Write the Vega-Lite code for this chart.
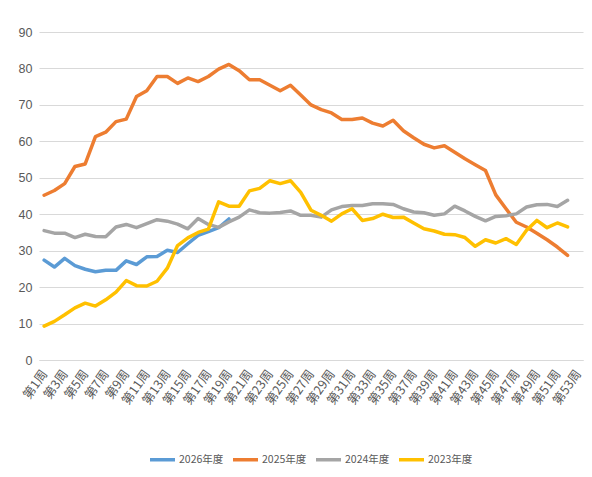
{
  "$schema": "https://vega.github.io/schema/vega-lite/v6.json",
  "width": 544,
  "height": 328,
  "autosize": {"type": "none"},
  "padding": {"left": 39, "top": 32, "right": 9, "bottom": 117},
  "background": "white",
  "data": {
    "values": [
      {"week": "第1周", "2026年度": 27.4, "2025年度": 45.2, "2024年度": 35.5, "2023年度": 9.3},
      {"week": "第2周", "2026年度": 25.5, "2025年度": 46.5, "2024年度": 34.8, "2023年度": 10.6},
      {"week": "第3周", "2026年度": 27.9, "2025年度": 48.4, "2024年度": 34.8, "2023年度": 12.4},
      {"week": "第4周", "2026年度": 25.9, "2025年度": 53.1, "2024年度": 33.6, "2023年度": 14.3},
      {"week": "第5周", "2026年度": 24.9, "2025年度": 53.8, "2024年度": 34.5, "2023年度": 15.6},
      {"week": "第6周", "2026年度": 24.2, "2025年度": 61.3, "2024年度": 33.9, "2023年度": 14.8},
      {"week": "第7周", "2026年度": 24.6, "2025年度": 62.5, "2024年度": 33.8, "2023年度": 16.5},
      {"week": "第8周", "2026年度": 24.6, "2025年度": 65.4, "2024年度": 36.5, "2023年度": 18.6},
      {"week": "第9周", "2026年度": 27.2, "2025年度": 66.1, "2024年度": 37.2, "2023年度": 21.8},
      {"week": "第10周", "2026年度": 26.2, "2025年度": 72.3, "2024年度": 36.3, "2023年度": 20.4},
      {"week": "第11周", "2026年度": 28.3, "2025年度": 73.9, "2024年度": 37.4, "2023年度": 20.3},
      {"week": "第12周", "2026年度": 28.4, "2025年度": 77.8, "2024年度": 38.5, "2023年度": 21.6},
      {"week": "第13周", "2026年度": 30.1, "2025年度": 77.8, "2024年度": 38.1, "2023年度": 25.2},
      {"week": "第14周", "2026年度": 29.5, "2025年度": 75.9, "2024年度": 37.3, "2023年度": 31.4},
      {"week": "第15周", "2026年度": 31.9, "2025年度": 77.4, "2024年度": 36.0, "2023年度": 33.5},
      {"week": "第16周", "2026年度": 34.2, "2025年度": 76.4, "2024年度": 38.8, "2023年度": 35.0},
      {"week": "第17周", "2026年度": 35.2, "2025年度": 77.8, "2024年度": 37.2, "2023年度": 35.9},
      {"week": "第18周", "2026年度": 36.3, "2025年度": 79.8, "2024年度": 36.4, "2023年度": 43.4},
      {"week": "第19周", "2026年度": 38.7, "2025年度": 81.1, "2024年度": 37.9, "2023年度": 42.2},
      {"week": "第20周", "2025年度": 79.4, "2024年度": 39.2, "2023年度": 42.2},
      {"week": "第21周", "2025年度": 76.9, "2024年度": 41.2, "2023年度": 46.4},
      {"week": "第22周", "2025年度": 76.9, "2024年度": 40.4, "2023年度": 47.1},
      {"week": "第23周", "2025年度": 75.4, "2024年度": 40.3, "2023年度": 49.2},
      {"week": "第24周", "2025年度": 73.9, "2024年度": 40.5, "2023年度": 48.4},
      {"week": "第25周", "2025年度": 75.4, "2024年度": 40.9, "2023年度": 49.2},
      {"week": "第26周", "2025年度": 72.7, "2024年度": 39.7, "2023年度": 46.0},
      {"week": "第27周", "2025年度": 70.0, "2024年度": 39.7, "2023年度": 41.1},
      {"week": "第28周", "2025年度": 68.7, "2024年度": 39.2, "2023年度": 39.7},
      {"week": "第29周", "2025年度": 67.8, "2024年度": 41.2, "2023年度": 38.1},
      {"week": "第30周", "2025年度": 66.0, "2024年度": 42.1, "2023年度": 40.1},
      {"week": "第31周", "2025年度": 66.0, "2024年度": 42.4, "2023年度": 41.5},
      {"week": "第32周", "2025年度": 66.4, "2024年度": 42.4, "2023年度": 38.3},
      {"week": "第33周", "2025年度": 65.0, "2024年度": 42.9, "2023年度": 38.8},
      {"week": "第34周", "2025年度": 64.2, "2024年度": 42.9, "2023年度": 40.0},
      {"week": "第35周", "2025年度": 65.8, "2024年度": 42.7, "2023年度": 39.1},
      {"week": "第36周", "2025年度": 62.9, "2024年度": 41.5, "2023年度": 39.2},
      {"week": "第37周", "2025年度": 61.0, "2024年度": 40.6, "2023年度": 37.6},
      {"week": "第38周", "2025年度": 59.2, "2024年度": 40.4, "2023年度": 36.0},
      {"week": "第39周", "2025年度": 58.2, "2024年度": 39.7, "2023年度": 35.4},
      {"week": "第40周", "2025年度": 58.8, "2024年度": 40.1, "2023年度": 34.5},
      {"week": "第41周", "2025年度": 57.0, "2024年度": 42.2, "2023年度": 34.4},
      {"week": "第42周", "2025年度": 55.2, "2024年度": 40.9, "2023年度": 33.6},
      {"week": "第43周", "2025年度": 53.6, "2024年度": 39.4, "2023年度": 31.2},
      {"week": "第44周", "2025年度": 52.0, "2024年度": 38.2, "2023年度": 33.0},
      {"week": "第45周", "2025年度": 45.3, "2024年度": 39.4, "2023年度": 32.1},
      {"week": "第46周", "2025年度": 41.5, "2024年度": 39.6, "2023年度": 33.3},
      {"week": "第47周", "2025年度": 37.8, "2024年度": 40.1, "2023年度": 31.7},
      {"week": "第48周", "2025年度": 36.5, "2024年度": 42.0, "2023年度": 35.6},
      {"week": "第49周", "2025年度": 34.8, "2024年度": 42.6, "2023年度": 38.3},
      {"week": "第50周", "2025年度": 33.0, "2024年度": 42.7, "2023年度": 36.3},
      {"week": "第51周", "2025年度": 31.0, "2024年度": 42.1, "2023年度": 37.6},
      {"week": "第52周", "2025年度": 28.7, "2024年度": 43.8, "2023年度": 36.5}
    ]
  },
  "transform": [
    {"fold": ["2026年度", "2025年度", "2024年度", "2023年度"], "as": ["year", "value"]},
    {"filter": "isValid(datum.value)"}
  ],
  "mark": {"type": "line", "strokeWidth": 3.5, "strokeJoin": "round", "strokeCap": "round"},
  "encoding": {
    "x": {
      "field": "week",
      "type": "ordinal",
      "sort": null,
      "scale": {
        "domain": ["第1周","第2周","第3周","第4周","第5周","第6周","第7周","第8周","第9周","第10周","第11周","第12周","第13周","第14周","第15周","第16周","第17周","第18周","第19周","第20周","第21周","第22周","第23周","第24周","第25周","第26周","第27周","第28周","第29周","第30周","第31周","第32周","第33周","第34周","第35周","第36周","第37周","第38周","第39周","第40周","第41周","第42周","第43周","第44周","第45周","第46周","第47周","第48周","第49周","第50周","第51周","第52周","第53周"],
        "type": "point",
        "padding": 0.5
      },
      "axis": {
        "title": null,
        "values": ["第1周","第3周","第5周","第7周","第9周","第11周","第13周","第15周","第17周","第19周","第21周","第23周","第25周","第27周","第29周","第31周","第33周","第35周","第37周","第39周","第41周","第43周","第45周","第47周","第49周","第51周","第53周"],
        "labelAngle": -55,
        "labelAlign": "right",
        "labelBaseline": "middle",
        "labelPadding": 11,
        "labelFont": "Noto Sans CJK SC",
        "labelFontSize": 12.5,
        "labelColor": "#595959",
        "ticks": false,
        "grid": false,
        "domainColor": "#D9D9D9",
        "domainWidth": 1
      }
    },
    "y": {
      "field": "value",
      "type": "quantitative",
      "scale": {"domain": [0, 90], "nice": false},
      "axis": {
        "title": null,
        "values": [0, 10, 20, 30, 40, 50, 60, 70, 80, 90],
        "grid": true,
        "gridColor": "#D9D9D9",
        "gridWidth": 1,
        "domain": false,
        "ticks": false,
        "labelPadding": 7,
        "labelFont": "Liberation Sans",
        "labelFontSize": 12.5,
        "labelColor": "#595959"
      }
    },
    "color": {
      "field": "year",
      "type": "nominal",
      "scale": {
        "domain": ["2026年度", "2025年度", "2024年度", "2023年度"],
        "range": ["#5B9BD5", "#ED7D31", "#A5A5A5", "#FFC000"]
      },
      "legend": {
        "title": null,
        "orient": "none",
        "direction": "horizontal",
        "legendX": 109,
        "legendY": 413,
        "symbolType": "stroke",
        "symbolSize": 625,
        "symbolStrokeWidth": 3.5,
        "labelFont": "Noto Sans CJK SC",
        "labelFontSize": 10.5,
        "labelColor": "#595959",
        "labelOffset": 2,
        "columnPadding": 2
      }
    }
  },
  "config": {"view": {"stroke": null}}
}
